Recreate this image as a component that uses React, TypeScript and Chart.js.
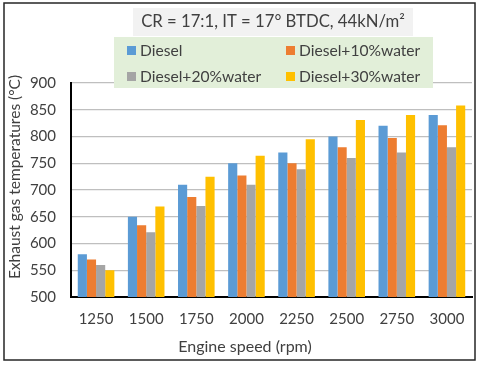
import React, { useEffect, useRef } from 'react';
import { Chart, registerables } from 'chart.js';

Chart.register(...registerables);

const categories = ['1250', '1500', '1750', '2000', '2250', '2500', '2750', '3000'];
const diesel = [580, 650, 710, 750, 770, 800, 820, 840];
const water10 = [570, 634, 687, 727, 750, 780, 797, 821];
const water20 = [560, 621, 670, 710, 739, 760, 770, 780];
const water30 = [550, 669, 725, 764, 795, 831, 840, 858];
const seriesNames = ['Diesel', 'Diesel+10%water', 'Diesel+20%water', 'Diesel+30%water'];
const seriesColors = ['#5B9BD5', '#ED7D31', '#A5A5A5', '#FFC000'];
const yTicks = [500, 550, 600, 650, 700, 750, 800, 850, 900];
const chartTitle = 'CR = 17:1, IT = 17° BTDC, 44kN/m²';
const xTitle = 'Engine speed (rpm)';
const yTitle = 'Exhaust gas temperatures (°C)';

const FONT = 'Lato';

const decorPlugin = {
  id: 'decor',
  afterDraw(chart: any) {
    const ctx = chart.ctx as CanvasRenderingContext2D;
    ctx.save();
    // outer frame
    ctx.strokeStyle = '#262626';
    ctx.lineWidth = 1.5;
    ctx.strokeRect(4, 3, 471, 357);

    // title box
    ctx.fillStyle = '#F2F2F2';
    ctx.fillRect(133, 8, 280, 28);
    ctx.fillStyle = '#404040';
    ctx.font = `16.7px ${FONT}`;
    ctx.textAlign = 'center';
    ctx.textBaseline = 'middle';
    ctx.fillText(chartTitle, 273, 22);

    // legend box
    ctx.fillStyle = '#E2EFD9';
    ctx.fillRect(114, 37, 319, 51);
    const cols = [127, 286];
    const rows = [50, 76];
    ctx.font = `15.6px ${FONT}`;
    ctx.textAlign = 'left';
    seriesNames.forEach((name, i) => {
      const x = cols[i % 2];
      const y = rows[Math.floor(i / 2)];
      ctx.fillStyle = seriesColors[i];
      ctx.fillRect(x, y - 4, 9, 9);
      ctx.fillStyle = '#404040';
      ctx.fillText(name, x + 13, y + 1);
    });

    // axis titles
    ctx.fillStyle = '#404040';
    ctx.font = `16px ${FONT}`;
    ctx.textAlign = 'center';
    ctx.fillText(xTitle, 245, 347);
    ctx.font = `15.5px ${FONT}`;
    ctx.translate(15, 177);
    ctx.rotate(-Math.PI / 2);
    ctx.fillText(yTitle, 0, 0);
    ctx.restore();
  },
};

export default function App() {
  const ref = useRef<HTMLCanvasElement | null>(null);
  useEffect(() => {
    if (!ref.current) return;
    const data = [diesel, water10, water20, water30];
    const chart = new Chart(ref.current, {
      type: 'bar',
      data: {
        labels: categories,
        datasets: seriesNames.map((name, i) => ({
          label: name,
          data: data[i],
          backgroundColor: seriesColors[i],
          borderWidth: 0,
          barPercentage: 1,
          categoryPercentage: 0.73,
        })),
      },
      options: {
        animation: false,
        responsive: false,
        maintainAspectRatio: false,
        layout: { padding: { top: 83, right: 8, left: 0, bottom: 0 } },
        plugins: {
          legend: { display: false },
          title: { display: false },
          tooltip: { enabled: false },
        },
        scales: {
          x: {
            grid: { display: false },
            border: { display: true, color: '#000000', width: 2 },
            ticks: { color: '#404040', font: { family: FONT, size: 15 }, padding: 5, maxRotation: 0 },
            afterFit: (s: any) => { s.height = 68; },
          },
          y: {
            min: 500,
            max: 900,
            afterBuildTicks: (s: any) => { s.ticks = yTicks.map((v) => ({ value: v })); },
            grid: { color: '#BFBFBF', lineWidth: 1.3, drawTicks: false },
            border: { display: true, color: '#000000', width: 2 },
            ticks: { color: '#404040', font: { family: FONT, size: 15 }, padding: 15 },
            afterFit: (s: any) => { s.width = 71; },
          },
        },
      },
      plugins: [decorPlugin],
    });
    return () => chart.destroy();
  }, []);
  return (
    <div style={{ position: 'fixed', left: 0, top: 0, width: 480, height: 365, background: '#fff' }}>
      <canvas ref={ref} width={480} height={365} style={{ display: 'block', width: 480, height: 365 }} />
    </div>
  );
}
